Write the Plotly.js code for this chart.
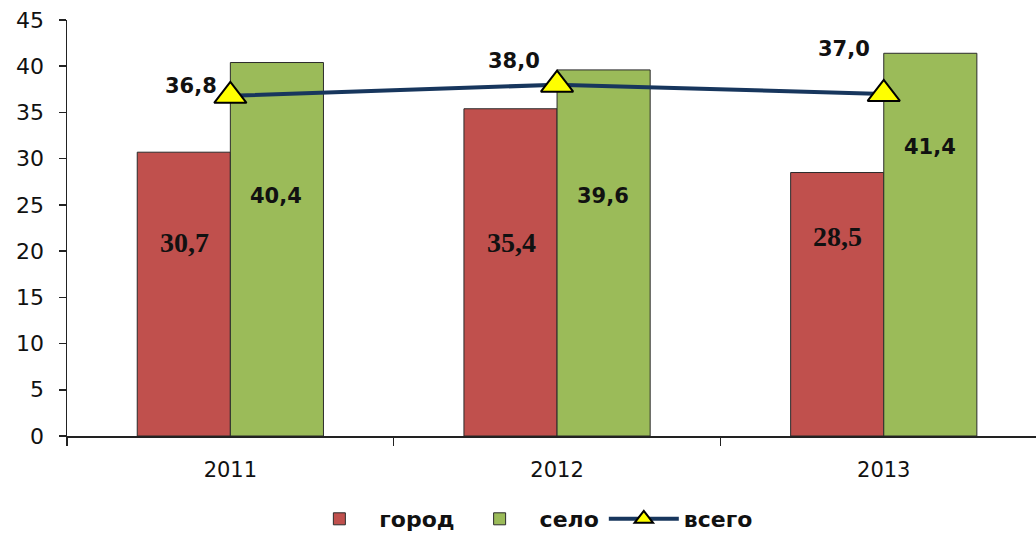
<!DOCTYPE html>
<html>
<head>
<meta charset="utf-8">
<script src="https://cdn.plot.ly/plotly-3.0.1.min.js"></script>
<style>
html,body{margin:0;padding:0;background:#fff;}
#chart{width:1036px;height:540px;}
</style>
</head>
<body>
<div id="chart"></div>
<script>
// ---- data ----
const years = ['2011', '2012', '2013'];
const gorod = [30.7, 35.4, 28.5];
const selo = [40.4, 39.6, 41.4];
const vsego = [36.8, 38.0, 37.0];
const gorodLabels = ['30,7', '35,4', '28,5'];
const seloLabels = ['40,4', '39,6', '41,4'];
const vsegoLabels = ['36,8', '38,0', '37,0'];

// ---- label placement (style only) ----
const gorodLabelY = [20.9, 20.9, 21.6];
const seloLabelY = [26.0, 26.0, 31.3];
const vsegoShift = [[-39, 10], [-43, 24], [-40, 45]];

const outline = {color: '#2b2b2b', width: 1};

const traces = [
  {type: 'bar', name: 'город', x: years, y: gorod,
   marker: {color: '#C0504D', line: outline}, hoverinfo: 'none'},
  {type: 'bar', name: 'село', x: years, y: selo,
   marker: {color: '#9BBB59', line: outline}, hoverinfo: 'none'},
  {type: 'scatter', mode: 'lines+markers', name: 'всего', x: years, y: vsego,
   line: {color: '#17365D', width: 4},
   marker: {symbol: 'triangle-up', size: 28, color: '#FFFF00', line: {color: '#000', width: 2}},
   hoverinfo: 'none'}
];

const annotations = [];
years.forEach((yr, i) => {
  annotations.push({x: i, y: gorodLabelY[i], xref: 'x', yref: 'y', xshift: -46, showarrow: false,
    text: '<b>' + gorodLabels[i] + '</b>',
    font: {family: 'Liberation Serif', size: 28, color: '#111111'}});
  annotations.push({x: i, y: seloLabelY[i], xref: 'x', yref: 'y', xshift: 46, showarrow: false,
    text: '<b>' + seloLabels[i] + '</b>',
    font: {family: 'DejaVu Sans', size: 21, color: '#111111'}});
  annotations.push({x: i, y: vsego[i], xref: 'x', yref: 'y',
    xshift: vsegoShift[i][0], yshift: vsegoShift[i][1], showarrow: false,
    text: '<b>' + vsegoLabels[i] + '</b>',
    font: {family: 'DejaVu Sans', size: 21, color: '#111111'}});
});

const layout = {
  width: 1036, height: 540,
  margin: {l: 67, r: 0, t: 20, b: 104},
  paper_bgcolor: '#ffffff', plot_bgcolor: '#ffffff',
  barmode: 'group', bargap: 0.43, bargroupgap: 0,
  showlegend: true,
  legend: {orientation: 'h', x: 0.51, xref: 'container', xanchor: 'center',
    y: 0, yref: 'container', yanchor: 'bottom',
    font: {family: 'DejaVu Sans', size: 22, color: '#111111', weight: 'bold'},
    itemwidth: 70, traceorder: 'normal'},
  xaxis: {type: 'category', range: [-0.5, 2.466], showgrid: false, zeroline: false,
    showline: true, linecolor: '#222222', linewidth: 1.5,
    ticks: 'outside', tickson: 'boundaries', ticklen: 8, tickcolor: '#222222', tickwidth: 1.5,
    ticklabelstandoff: 14,
    tickfont: {family: 'DejaVu Sans', size: 21, color: '#111111'},
    fixedrange: true},
  yaxis: {range: [0, 45], dtick: 5, showgrid: false, zeroline: false,
    showline: true, linecolor: '#222222', linewidth: 1.5,
    ticks: 'outside', ticklen: 7, tickcolor: '#222222', tickwidth: 1.5,
    ticklabelstandoff: 10,
    tickfont: {family: 'DejaVu Sans', size: 22, color: '#111111'},
    fixedrange: true},
  annotations: annotations
};

Plotly.newPlot('chart', traces, layout, {staticPlot: true, displayModeBar: false});
</script>
</body>
</html>
